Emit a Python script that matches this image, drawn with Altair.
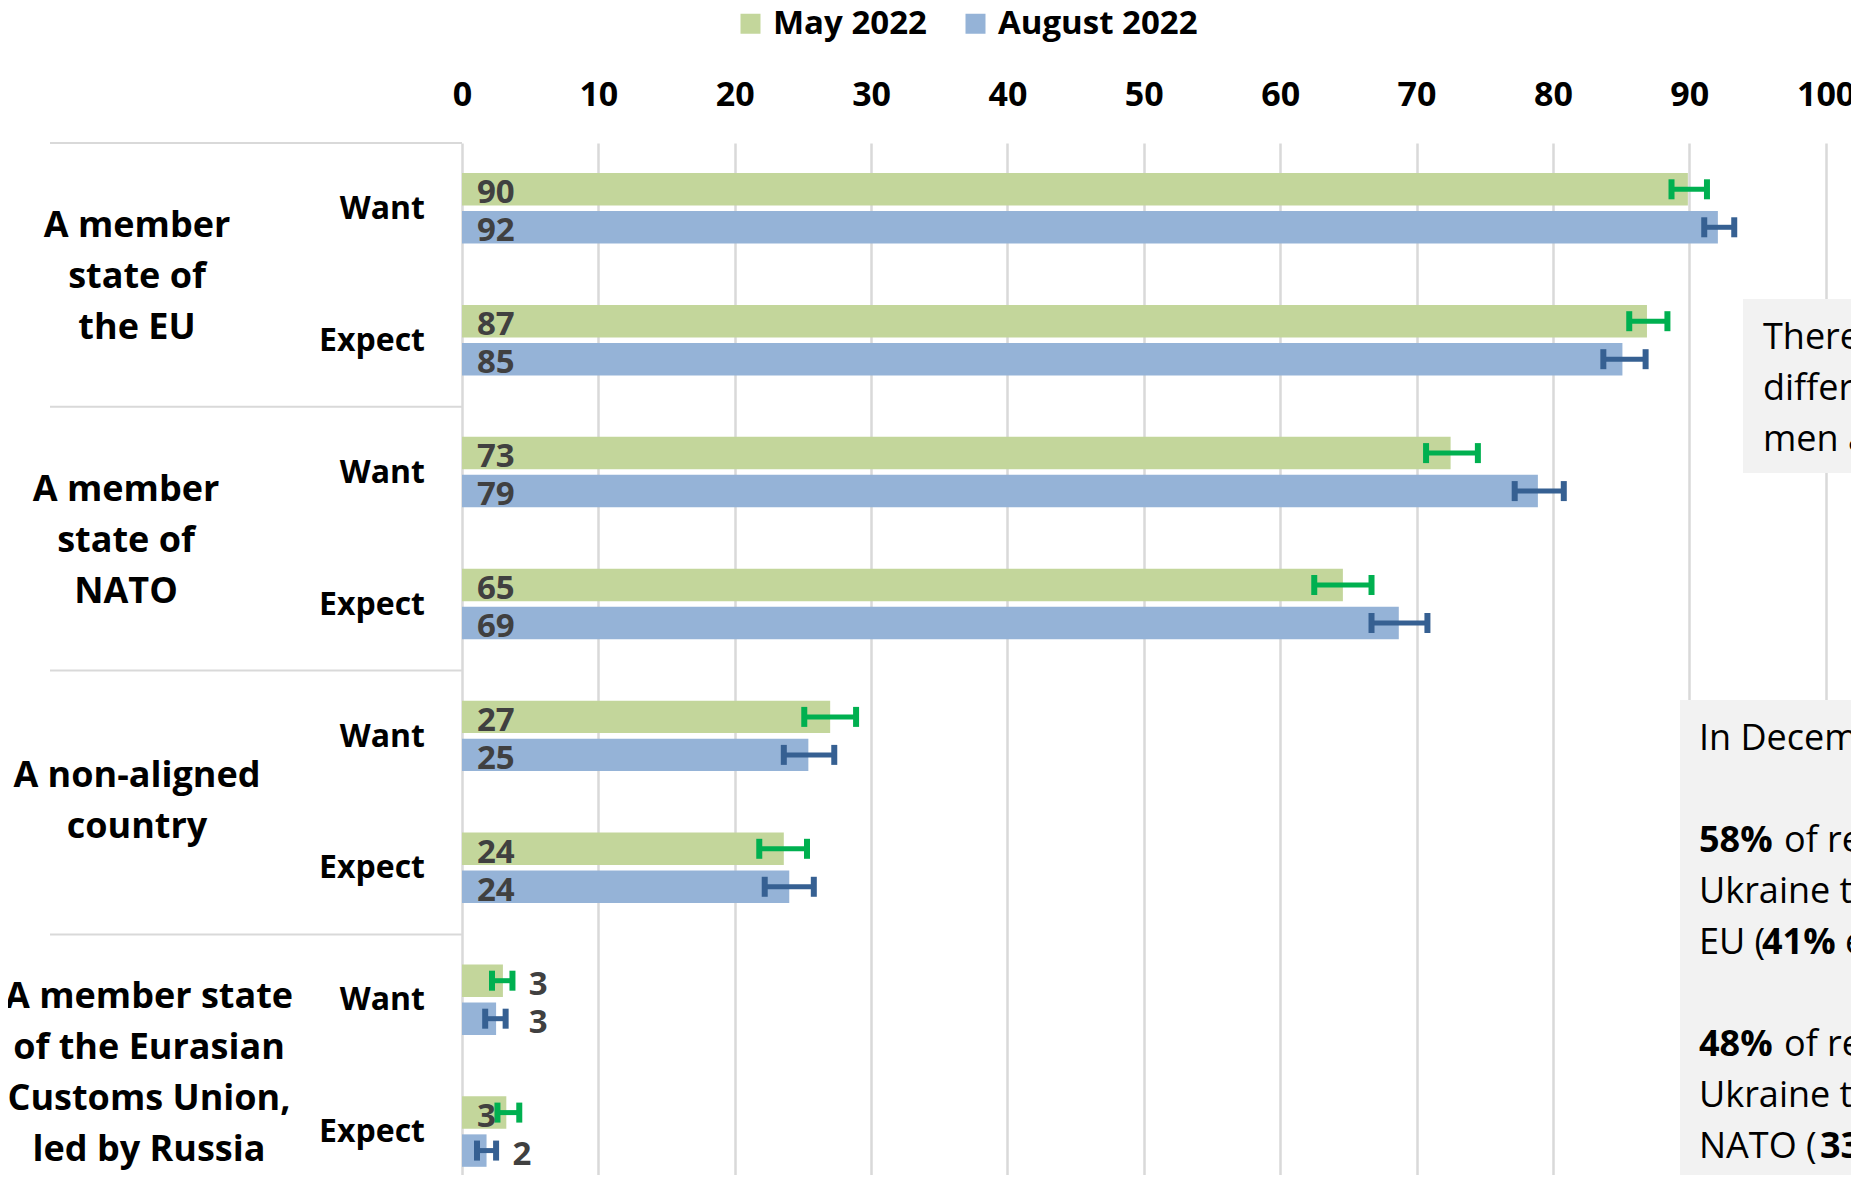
import altair as alt
import pandas as pd

# ---------------- data ----------------
groups = [
    "A member\nstate of\nthe EU",
    "A member\nstate of\nNATO",
    "A non-aligned\ncountry",
    "A member state\nof the Eurasian\nCustoms Union,\nled by Russia",
]
subgroups = ["Want", "Expect"]
series_names = ["May 2022", "August 2022"]

may_values = [89.9, 86.9, 72.5, 64.6, 27.0, 23.6, 3.0, 3.25]
aug_values = [92.1, 85.1, 78.9, 68.7, 25.4, 24.0, 2.5, 1.8]
may_labels = [90, 87, 73, 65, 27, 24, 3, 3]
aug_labels = [92, 85, 79, 69, 25, 24, 3, 2]
may_err_low = [88.7, 85.6, 70.7, 62.5, 25.1, 21.8, 2.2, 2.6]
may_err_high = [91.3, 88.4, 74.5, 66.7, 28.9, 25.3, 3.7, 4.2]
aug_err_low = [91.1, 83.7, 77.2, 66.7, 23.6, 22.2, 1.7, 1.1]
aug_err_high = [93.3, 86.8, 80.8, 70.8, 27.3, 25.8, 3.2, 2.5]
may_label_outside = [False, False, False, False, False, False, True, False]
aug_label_outside = [False, False, False, False, False, False, True, True]

x_ticks = list(range(0, 101, 10))

box1_lines = ["There is no significant", "difference between", "men and women"]
box2_segments = [
    # (line, text, bold, x offset in px from the text start)
    (0, "In December 2021:", False, 0),
    (2, "58%", True, 0),
    (2, "of respondents wanted", False, 85),
    (3, "Ukraine to join the", False, 0),
    (4, "EU (", False, 0),
    (4, "41%", True, 63),
    (4, "expected)", False, 146),
    (6, "48%", True, 0),
    (6, "of respondents wanted", False, 85),
    (7, "Ukraine to join", False, 0),
    (8, "NATO (", False, 0),
    (8, "33% expected)", True, 121),
]

# ---------------- style / layout ----------------
BAR_COLORS = ["#C3D69B", "#95B3D7"]
ERR_COLORS = ["#00B050", "#366092"]
GRID = "#D9D9D9"
FONT = "Open Sans"
PX_PER_UNIT = 13.636
ROW_PX = 131.9
PLOT_W = 1389
PLOT_H = 1032
X_MAX = PLOT_W / PX_PER_UNIT
Y_MAX = PLOT_H / ROW_PX
BAR_SPANS = [(0.228, 0.474), (0.516, 0.762)]
CAP_HALF = 10 / ROW_PX
GROUP_LABEL_X = [-325, -336, -325, -313]   # centre of each group label, px left of the axis
GROUP_LABEL_DY = [2, 2, -1, 7]
GROUP_LINE_H = 51

series_data = [
    (may_values, may_labels, may_err_low, may_err_high, may_label_outside),
    (aug_values, aug_labels, aug_err_low, aug_err_high, aug_label_outside),
]

n_rows = len(groups) * len(subgroups)
records = []
for r in range(n_rows):
    out_his = [series_data[s][3][r] for s in range(2) if series_data[s][4][r]]
    out_x = max(out_his) + 1.2 if out_his else None
    for s, (vals, labs, lo, hi, out) in enumerate(series_data):
        y0 = r + BAR_SPANS[s][0]
        y1 = r + BAR_SPANS[s][1]
        yc = (y0 + y1) / 2
        records.append(dict(
            row=r, series=series_names[s], value=vals[r], label=str(labs[r]),
            err_lo=lo[r], err_hi=hi[r], y0=y0, y1=y1, yc=yc,
            cap0=yc - CAP_HALF, cap1=yc + CAP_HALF,
            label_x=(out_x if out[r] else 15 / PX_PER_UNIT),
            err_color=ERR_COLORS[s], zero=0,
        ))
df = pd.DataFrame(records)

x_scale = alt.Scale(domain=[0, X_MAX], nice=False, zero=False)
y_scale = alt.Scale(domain=[0, Y_MAX], nice=False, zero=False, reverse=True)

tick_df = pd.DataFrame({"t": x_ticks})
axis_layer = alt.Chart(tick_df).mark_tick(opacity=0).encode(
    x=alt.X("t:Q", scale=x_scale, axis=alt.Axis(
        orient="top", values=x_ticks, title=None, domain=False, ticks=False,
        tickSize=0, labelFont=FONT, labelFontWeight="bold", labelFontSize=34,
        labelColor="black", labelPadding=31, grid=True, gridColor=GRID,
        gridWidth=2.5, labelFlush=False, labelOverlap=False)),
)

bars = alt.Chart(df).mark_rect().encode(
    x=alt.X("zero:Q", scale=x_scale),
    x2="value:Q",
    y=alt.Y("y0:Q", scale=y_scale, axis=None),
    y2="y1:Q",
    color=alt.Color("series:N",
                    scale=alt.Scale(domain=series_names, range=BAR_COLORS),
                    legend=alt.Legend(
                        title=None, orient="none", legendX=272, legendY=-136,
                        direction="horizontal", symbolType="square",
                        symbolSize=400, symbolStrokeWidth=0, labelFont=FONT,
                        labelFontWeight="bold", labelFontSize=33,
                        labelColor="black", labelOffset=6, columnPadding=32,
                        padding=0, labelLimit=0)),
)

err_line = alt.Chart(df).mark_rule(strokeWidth=5).encode(
    x=alt.X("err_lo:Q", scale=x_scale),
    x2="err_hi:Q",
    y=alt.Y("yc:Q", scale=y_scale, axis=None),
    stroke=alt.Stroke("err_color:N", scale=None, legend=None),
)

err_caps = alt.Chart(df).transform_fold(
    ["err_lo", "err_hi"], as_=["end", "xpos"]
).mark_rule(strokeWidth=6).encode(
    x=alt.X("xpos:Q", scale=x_scale),
    y=alt.Y("cap0:Q", scale=y_scale, axis=None),
    y2="cap1:Q",
    stroke=alt.Stroke("err_color:N", scale=None, legend=None),
)

value_labels = alt.Chart(df).mark_text(
    align="left", baseline="middle", dy=4, font=FONT, fontWeight="bold",
    fontSize=33, color="#404040"
).encode(
    x=alt.X("label_x:Q", scale=x_scale),
    y=alt.Y("yc:Q", scale=y_scale, axis=None),
    text="label:N",
)

sep_df = pd.DataFrame({"yb": [g * len(subgroups) for g in range(len(groups))]})
separators = alt.Chart(sep_df).mark_rule(color=GRID, strokeWidth=2, clip=False).encode(
    x=alt.value(-412), x2=alt.value(0),
    y=alt.Y("yb:Q", scale=y_scale, axis=None),
)

group_layers = []
for g, name in enumerate(groups):
    n_lines = len(name.split("\n"))
    centre = g * len(subgroups) + len(subgroups) / 2
    first_line = centre - (n_lines - 1) / 2 * GROUP_LINE_H / ROW_PX
    gdf = pd.DataFrame({"text": [name], "yc": [first_line]})
    group_layers.append(alt.Chart(gdf).mark_text(
        align="center", baseline="middle", dy=GROUP_LABEL_DY[g], font=FONT,
        fontWeight="bold", fontSize=36, color="black", lineBreak="\n",
        lineHeight=GROUP_LINE_H, clip=False
    ).encode(
        x=alt.value(GROUP_LABEL_X[g]),
        y=alt.Y("yc:Q", scale=y_scale, axis=None),
        text="text:N",
    ))

sub_df = pd.DataFrame({
    "text": [subgroups[r % len(subgroups)] for r in range(n_rows)],
    "yc": [r + 0.5 for r in range(n_rows)],
})
sub_labels = alt.Chart(sub_df).mark_text(
    align="right", baseline="middle", font=FONT, fontWeight="bold",
    fontSize=32, color="black", clip=False
).encode(
    x=alt.value(-37),
    y=alt.Y("yc:Q", scale=y_scale, axis=None),
    text="text:N",
)

one = pd.DataFrame({"a": [0]})
box1 = alt.Chart(one).mark_rect(color="#F2F2F2").encode(
    x=alt.value(1281), x2=alt.value(PLOT_W + 20),
    y=alt.value(156), y2=alt.value(330),
)
box2 = alt.Chart(one).mark_rect(color="#F2F2F2").encode(
    x=alt.value(1218), x2=alt.value(PLOT_W + 20),
    y=alt.value(557), y2=alt.value(PLOT_H),
)

annot = []
for k, line in enumerate(box1_lines):
    annot.append(alt.Chart(one).mark_text(
        text=line, align="left", baseline="middle", font=FONT, fontSize=36,
        color="black").encode(x=alt.value(1301), y=alt.value(195 + 51 * k)))
for (ln, txt, bold, off) in box2_segments:
    annot.append(alt.Chart(one).mark_text(
        text=txt, align="left", baseline="middle", font=FONT, fontSize=36,
        fontWeight=("bold" if bold else "normal"),
        color="black").encode(x=alt.value(1237 + off), y=alt.value(596 + 51 * ln)))

chart = alt.layer(
    axis_layer, bars, err_line, err_caps, value_labels, separators,
    *group_layers, sub_labels, box1, box2, *annot
).properties(
    width=PLOT_W, height=PLOT_H,
    padding={"left": 454, "top": 135, "right": 0, "bottom": 0},
    autosize=alt.AutoSizeParams(type="none"),
).configure(font=FONT).configure_view(strokeWidth=0)

chart.save("out.html", embed_options={"renderer": "svg", "actions": False})
